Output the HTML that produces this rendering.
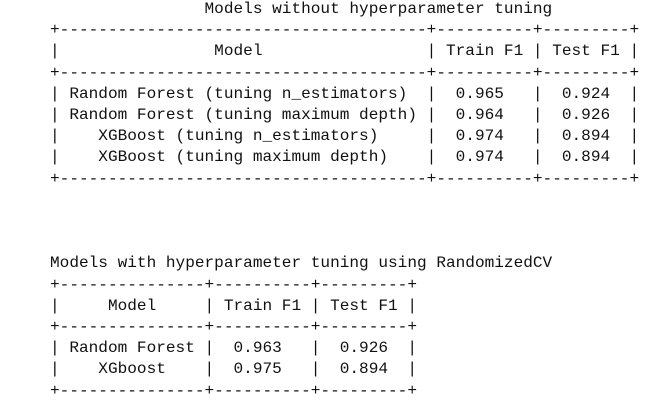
<!DOCTYPE html>
<html><head><meta charset="utf-8">
<style>
html,body{margin:0;padding:0;background:#fff;width:655px;height:406px;overflow:hidden}
pre{position:absolute;left:50px;top:-1px;margin:0;font-family:"Liberation Mono",monospace;font-size:16.1px;line-height:21.2px;color:#111;white-space:pre}
</style></head>
<body>
<pre id="out"></pre>
<script>
const table1Models = ["Random Forest (tuning n_estimators)","Random Forest (tuning maximum depth)","XGBoost (tuning n_estimators)","XGBoost (tuning maximum depth)"];
const table1Train = ["0.965","0.964","0.974","0.974"];
const table1Test = ["0.924","0.926","0.894","0.894"];
const table2Models = ["Random Forest","XGboost"];
const table2Train = ["0.963","0.975"];
const table2Test = ["0.926","0.894"];
const headers = ["Model","Train F1","Test F1"];

function center(s,w){const l=Math.floor((w-s.length)/2);return " ".repeat(l)+s+" ".repeat(w-s.length-l);}
function build(models,train,test){
  const w=[Math.max(5,...models.map(m=>m.length))+2,10,9];
  const border="+"+w.map(x=>"-".repeat(x)).join("+")+"+";
  const lines=[border,"|"+headers.map((h,i)=>center(h,w[i])).join("|")+"|",border];
  models.forEach((m,i)=>{
    lines.push("|"+center(m,w[0])+"|  "+train[i]+"   |  "+test[i]+"  |");
  });
  lines.push(border);
  return lines;
}
const out=[];
out.push(" ".repeat(16)+"Models without hyperparameter tuning");
out.push(...build(table1Models,table1Train,table1Test));
out.push("","","");
out.push("Models with hyperparameter tuning using RandomizedCV");
out.push(...build(table2Models,table2Train,table2Test));
document.getElementById("out").textContent=out.join("\n");
</script>
</body></html>
